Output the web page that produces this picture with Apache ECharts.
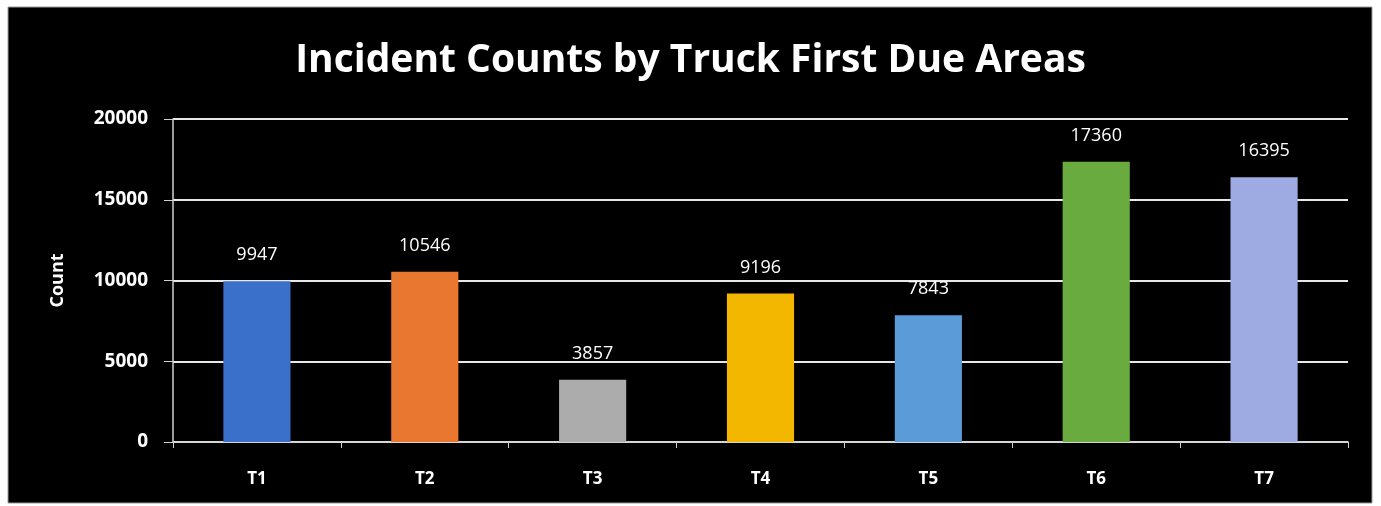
<!DOCTYPE html>
<html>
<head>
<meta charset="utf-8">
<script src="https://cdn.jsdelivr.net/npm/echarts@6/dist/echarts.min.js"></script>
<style>
  html, body { margin: 0; padding: 0; background: #ffffff; }
  #chart { width: 1381px; height: 506px; }
</style>
</head>
<body>
<div id="chart"></div>
<script>
// Incident counts per truck first-due area
const categories = ['T1', 'T2', 'T3', 'T4', 'T5', 'T6', 'T7'];
const counts = [9947, 10546, 3857, 9196, 7843, 17360, 16395];
const barColors = ['#3b70ca', '#ea772f', '#acacac', '#f4b700', '#5a9bd8', '#6aab3f', '#9eabe2'];
const yTicks = [0, 5000, 10000, 15000, 20000];

const chart = echarts.init(document.getElementById('chart'), null, { renderer: 'canvas' });

const fontFamily = '"Open Sans", "Noto Sans", sans-serif';

chart.setOption({
  backgroundColor: '#ffffff',
  animation: false,
  graphic: [{
    type: 'rect',
    z: -10,
    shape: { x: 8, y: 7, width: 1364, height: 496 },
    style: { fill: '#000000', stroke: '#9a9a9a', lineWidth: 1 }
  }],
  title: {
    text: 'Incident Counts by Truck First Due Areas',
    left: 'center',
    top: 36,
    textStyle: { color: '#ffffff', fontFamily, fontWeight: 'bold', fontSize: 39 }
  },
  grid: { left: 173, right: 33, top: 119, bottom: 64, containLabel: false },
  xAxis: {
    type: 'category',
    data: categories,
    axisLine: { lineStyle: { color: '#d0d0d0', width: 1.5 } },
    axisTick: { show: true, alignWithLabel: false, length: 6, lineStyle: { color: '#d0d0d0' } },
    axisLabel: { color: '#ffffff', fontFamily, fontWeight: 'bold', fontSize: 17, margin: 29 }
  },
  yAxis: {
    type: 'value',
    min: yTicks[0],
    max: yTicks[yTicks.length - 1],
    interval: 5000,
    name: 'Count',
    nameLocation: 'middle',
    nameGap: 106,
    nameTextStyle: { color: '#ffffff', fontFamily, fontWeight: 'bold', fontSize: 18 },
    axisLine: { show: true, lineStyle: { color: '#d0d0d0', width: 1.5 } },
    axisTick: { show: true, length: 9, lineStyle: { color: '#d0d0d0' } },
    axisLabel: {
      color: '#ffffff', fontFamily, fontWeight: 'bold', fontSize: 19, margin: 25,
      formatter: (v) => String(v)
    },
    splitLine: { show: true, lineStyle: { color: '#e8e8e8', width: 2 } }
  },
  series: [{
    type: 'bar',
    data: counts.map((v, i) => ({ value: v, itemStyle: { color: barColors[i] } })),
    barWidth: '40%',
    label: {
      show: true,
      position: 'top',
      distance: 17,
      color: '#ffffff',
      fontFamily,
      fontSize: 18
    }
  }]
});
</script>
</body>
</html>
